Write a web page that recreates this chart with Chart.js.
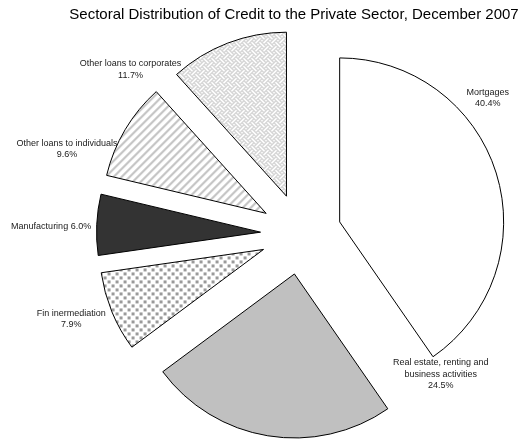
<!DOCTYPE html>
<html>
<head>
<meta charset="utf-8">
<script src="https://cdn.jsdelivr.net/npm/chart.js@4"></script>
<style>
  html, body { margin: 0; padding: 0; background: #fff; }
  #wrap { width: 526px; height: 441px; position: relative; }
</style>
</head>
<body>
<div id="wrap"><canvas id="pieChart"></canvas></div>
<script>
// Credit shares by sector, December 2007 (%)
const categories = [
  'Mortgages',
  'Real estate, renting and business activities',
  'Fin inermediation',
  'Manufacturing',
  'Other loans to individuals',
  'Other loans to corporates'
];
const shares = [40.4, 24.5, 7.9, 6.0, 9.6, 11.7];

// how each label breaks into lines (value line appended)
const labelLines = [
  ['Mortgages'],
  ['Real estate, renting and', 'business activities'],
  ['Fin inermediation'],
  ['Manufacturing'],
  ['Other loans to individuals'],
  ['Other loans to corporates']
];
// label anchor: angle (deg, clockwise from top) and distance from pie centre
const labelSpots = [[53.9, 231], [135.1, 198], [249.7, 245], [271.8, 250], [290, 249], [314, 237]];
const sameLine = [false, false, false, true, false, false];

const EXPLODE = 40.5;

function tile(draw) {
  const c = document.createElement('canvas');
  c.width = 8; c.height = 8;
  const g = c.getContext('2d');
  g.fillStyle = '#fff';
  g.fillRect(0, 0, 8, 8);
  draw(g);
  return c.getContext('2d').createPattern(c, 'repeat');
}

// small dotted squares
const dotted = tile(g => {
  g.fillStyle = '#9a9a9a';
  g.fillRect(1, 1, 3, 3);
  g.fillRect(5, 5, 3, 3);
});
// wide upward diagonal
const stripes = tile(g => {
  g.fillStyle = '#c4c4c4';
  for (let x = 0; x < 8; x++) for (let y = 0; y < 8; y++) {
    if ((x + y) % 8 < 3) g.fillRect(x, y, 1, 1);
  }
});
// weave
const weave = tile(g => {
  g.fillStyle = '#b0b0b0';
  const rows = [
    '10001000',
    '01000101',
    '00100010',
    '01010001',
    '10001000',
    '00010101',
    '00100010',
    '01010100'
  ];
  rows.forEach((r, y) => [...r].forEach((b, x) => { if (b === '1') g.fillRect(x, y, 1, 1); }));
});

const fills = ['#ffffff', '#c0c0c0', dotted, '#333333', stripes, weave];

// every slice pulled out along its bisector by the same distance
const explode = {
  id: 'explode',
  beforeDatasetDraw(chart, args) {
    const ctx = chart.ctx;
    args.meta.data.forEach(arc => {
      const mid = (arc.startAngle + arc.endAngle) / 2;
      ctx.save();
      ctx.translate(Math.cos(mid) * EXPLODE, Math.sin(mid) * EXPLODE);
      arc.draw(ctx);
      ctx.restore();
    });
    return false;
  }
};

const decorations = {
  id: 'decorations',
  afterDraw(chart) {
    const ctx = chart.ctx;
    ctx.save();
    ctx.fillStyle = '#000';
    ctx.font = '15px "Liberation Sans", Arial, sans-serif';
    ctx.textAlign = 'center';
    ctx.textBaseline = 'alphabetic';
    ctx.fillText('Sectoral Distribution of Credit to the Private Sector, December 2007', 294, 19);

    const arc = chart.getDatasetMeta(0).data[0];
    const cx = arc.x, cy = arc.y;
    ctx.font = '9px "Liberation Sans", Arial, sans-serif';
    ctx.fillStyle = '#1a1a1a';
    ctx.textBaseline = 'middle';
    shares.forEach((v, i) => {
      const pct = v.toFixed(1) + '%';
      let lines = labelLines[i].slice();
      if (sameLine[i]) lines[lines.length - 1] += ' ' + pct;
      else lines.push(pct);
      const a = labelSpots[i][0] * Math.PI / 180;
      const x = cx + labelSpots[i][1] * Math.sin(a);
      const y = cy - labelSpots[i][1] * Math.cos(a);
      const lh = 11.5;
      lines.forEach((t, k) => {
        ctx.fillText(t, x, y + (k - (lines.length - 1) / 2) * lh);
      });
    });
    ctx.restore();
  }
};

new Chart(document.getElementById('pieChart').getContext('2d'), {
  type: 'pie',
  data: {
    labels: categories,
    datasets: [{
      data: shares,
      backgroundColor: fills,
      borderColor: '#000',
      borderWidth: 1,
      hoverOffset: 0
    }]
  },
  options: {
    responsive: true,
    maintainAspectRatio: false,
    animation: false,
    radius: 164,
    layout: { padding: { left: 80, right: 4, top: 40, bottom: 13 } },
    plugins: {
      legend: { display: false },
      title: { display: false },
      tooltip: { enabled: false }
    }
  },
  plugins: [explode, decorations]
});
</script>
</body>
</html>
